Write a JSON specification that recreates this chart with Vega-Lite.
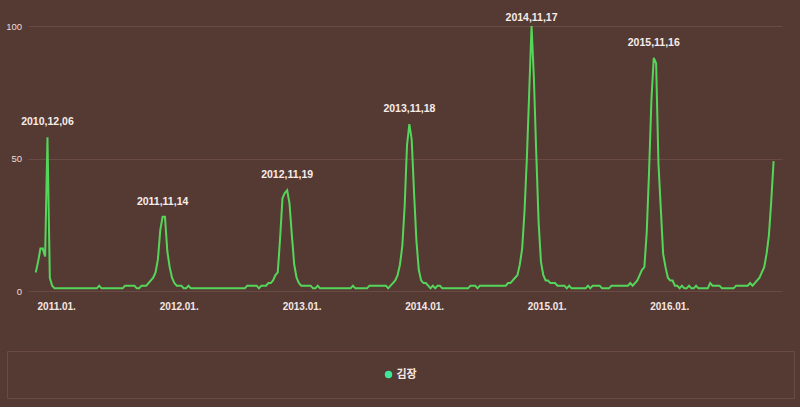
{
  "$schema": "https://vega.github.io/schema/vega-lite/v6.json",
  "background": "#553a34",
  "padding": {"left": 5, "right": 5, "top": 13, "bottom": 8},
  "spacing": 39,
  "config": {"font": "Liberation Sans", "view": {"stroke": null}},
  "vconcat": [
    {
      "width": 775,
      "height": 265,
      "data": {"values": [
        {"d":"2010-11-01","v":7},{"d":"2010-11-08","v":11},{"d":"2010-11-15","v":16},{"d":"2010-11-22","v":16},{"d":"2010-11-29","v":13},
        {"d":"2010-12-06","v":58,"l":"2010,12,06"},{"d":"2010-12-13","v":5},{"d":"2010-12-20","v":2},{"d":"2010-12-27","v":1},
        {"d":"2011-01-03","v":1},{"d":"2011-01-10","v":1},{"d":"2011-01-17","v":1},{"d":"2011-01-24","v":1},{"d":"2011-01-31","v":1},
        {"d":"2011-02-07","v":1},{"d":"2011-02-14","v":1},{"d":"2011-02-21","v":1},{"d":"2011-02-28","v":1},
        {"d":"2011-03-07","v":1},{"d":"2011-03-14","v":1},{"d":"2011-03-21","v":1},{"d":"2011-03-28","v":1},
        {"d":"2011-04-04","v":1},{"d":"2011-04-11","v":1},{"d":"2011-04-18","v":1},{"d":"2011-04-25","v":1},
        {"d":"2011-05-02","v":1},{"d":"2011-05-09","v":2},{"d":"2011-05-16","v":1},{"d":"2011-05-23","v":1},{"d":"2011-05-30","v":1},
        {"d":"2011-06-06","v":1},{"d":"2011-06-13","v":1},{"d":"2011-06-20","v":1},{"d":"2011-06-27","v":1},
        {"d":"2011-07-04","v":1},{"d":"2011-07-11","v":1},{"d":"2011-07-18","v":1},{"d":"2011-07-25","v":2},
        {"d":"2011-08-01","v":2},{"d":"2011-08-08","v":2},{"d":"2011-08-15","v":2},{"d":"2011-08-22","v":2},{"d":"2011-08-29","v":1},
        {"d":"2011-09-05","v":1},{"d":"2011-09-12","v":2},{"d":"2011-09-19","v":2},{"d":"2011-09-26","v":2},
        {"d":"2011-10-03","v":3},{"d":"2011-10-10","v":4},{"d":"2011-10-17","v":5},{"d":"2011-10-24","v":7},{"d":"2011-10-31","v":12},
        {"d":"2011-11-07","v":23},{"d":"2011-11-14","v":28,"l":"2011,11,14"},{"d":"2011-11-21","v":28},{"d":"2011-11-28","v":15},
        {"d":"2011-12-05","v":9},{"d":"2011-12-12","v":5},{"d":"2011-12-19","v":3},{"d":"2011-12-26","v":2},
        {"d":"2012-01-02","v":2},{"d":"2012-01-09","v":2},{"d":"2012-01-16","v":1},{"d":"2012-01-23","v":1},{"d":"2012-01-30","v":2},
        {"d":"2012-02-06","v":1},{"d":"2012-02-13","v":1},{"d":"2012-02-20","v":1},{"d":"2012-02-27","v":1},
        {"d":"2012-03-05","v":1},{"d":"2012-03-12","v":1},{"d":"2012-03-19","v":1},{"d":"2012-03-26","v":1},
        {"d":"2012-04-02","v":1},{"d":"2012-04-09","v":1},{"d":"2012-04-16","v":1},{"d":"2012-04-23","v":1},{"d":"2012-04-30","v":1},
        {"d":"2012-05-07","v":1},{"d":"2012-05-14","v":1},{"d":"2012-05-21","v":1},{"d":"2012-05-28","v":1},
        {"d":"2012-06-04","v":1},{"d":"2012-06-11","v":1},{"d":"2012-06-18","v":1},{"d":"2012-06-25","v":1},
        {"d":"2012-07-02","v":1},{"d":"2012-07-09","v":1},{"d":"2012-07-16","v":1},{"d":"2012-07-23","v":2},{"d":"2012-07-30","v":2},
        {"d":"2012-08-06","v":2},{"d":"2012-08-13","v":2},{"d":"2012-08-20","v":2},{"d":"2012-08-27","v":1},
        {"d":"2012-09-03","v":2},{"d":"2012-09-10","v":2},{"d":"2012-09-17","v":2},{"d":"2012-09-24","v":3},
        {"d":"2012-10-01","v":3},{"d":"2012-10-08","v":4},{"d":"2012-10-15","v":6},{"d":"2012-10-22","v":7},{"d":"2012-10-29","v":20},
        {"d":"2012-11-05","v":35},{"d":"2012-11-12","v":37},{"d":"2012-11-19","v":38,"l":"2012,11,19"},{"d":"2012-11-26","v":33},
        {"d":"2012-12-03","v":21},{"d":"2012-12-10","v":10},{"d":"2012-12-17","v":5},{"d":"2012-12-24","v":3},{"d":"2012-12-31","v":2},
        {"d":"2013-01-07","v":2},{"d":"2013-01-14","v":2},{"d":"2013-01-21","v":2},{"d":"2013-01-28","v":2},
        {"d":"2013-02-04","v":1},{"d":"2013-02-11","v":1},{"d":"2013-02-18","v":2},{"d":"2013-02-25","v":1},
        {"d":"2013-03-04","v":1},{"d":"2013-03-11","v":1},{"d":"2013-03-18","v":1},{"d":"2013-03-25","v":1},
        {"d":"2013-04-01","v":1},{"d":"2013-04-08","v":1},{"d":"2013-04-15","v":1},{"d":"2013-04-22","v":1},{"d":"2013-04-29","v":1},
        {"d":"2013-05-06","v":1},{"d":"2013-05-13","v":1},{"d":"2013-05-20","v":1},{"d":"2013-05-27","v":1},
        {"d":"2013-06-03","v":2},{"d":"2013-06-10","v":1},{"d":"2013-06-17","v":1},{"d":"2013-06-24","v":1},
        {"d":"2013-07-01","v":1},{"d":"2013-07-08","v":1},{"d":"2013-07-15","v":1},{"d":"2013-07-22","v":2},{"d":"2013-07-29","v":2},
        {"d":"2013-08-05","v":2},{"d":"2013-08-12","v":2},{"d":"2013-08-19","v":2},{"d":"2013-08-26","v":2},
        {"d":"2013-09-02","v":2},{"d":"2013-09-09","v":2},{"d":"2013-09-16","v":1},{"d":"2013-09-23","v":2},{"d":"2013-09-30","v":3},
        {"d":"2013-10-07","v":4},{"d":"2013-10-14","v":6},{"d":"2013-10-21","v":10},{"d":"2013-10-28","v":17},
        {"d":"2013-11-04","v":32},{"d":"2013-11-11","v":55},{"d":"2013-11-18","v":63,"l":"2013,11,18"},{"d":"2013-11-25","v":57},
        {"d":"2013-12-02","v":37},{"d":"2013-12-09","v":19},{"d":"2013-12-16","v":8},{"d":"2013-12-23","v":4},{"d":"2013-12-30","v":3},
        {"d":"2014-01-06","v":3},{"d":"2014-01-13","v":2},{"d":"2014-01-20","v":1},{"d":"2014-01-27","v":2},
        {"d":"2014-02-03","v":1},{"d":"2014-02-10","v":2},{"d":"2014-02-17","v":2},{"d":"2014-02-24","v":1},
        {"d":"2014-03-03","v":1},{"d":"2014-03-10","v":1},{"d":"2014-03-17","v":1},{"d":"2014-03-24","v":1},{"d":"2014-03-31","v":1},
        {"d":"2014-04-07","v":1},{"d":"2014-04-14","v":1},{"d":"2014-04-21","v":1},{"d":"2014-04-28","v":1},
        {"d":"2014-05-05","v":1},{"d":"2014-05-12","v":1},{"d":"2014-05-19","v":2},{"d":"2014-05-26","v":2},
        {"d":"2014-06-02","v":2},{"d":"2014-06-09","v":1},{"d":"2014-06-16","v":2},{"d":"2014-06-23","v":2},{"d":"2014-06-30","v":2},
        {"d":"2014-07-07","v":2},{"d":"2014-07-14","v":2},{"d":"2014-07-21","v":2},{"d":"2014-07-28","v":2},
        {"d":"2014-08-04","v":2},{"d":"2014-08-11","v":2},{"d":"2014-08-18","v":2},{"d":"2014-08-25","v":2},
        {"d":"2014-09-01","v":2},{"d":"2014-09-08","v":3},{"d":"2014-09-15","v":3},{"d":"2014-09-22","v":4},{"d":"2014-09-29","v":5},
        {"d":"2014-10-06","v":6},{"d":"2014-10-13","v":10},{"d":"2014-10-20","v":16},{"d":"2014-10-27","v":30},
        {"d":"2014-11-03","v":50},{"d":"2014-11-10","v":75},{"d":"2014-11-17","v":100,"l":"2014,11,17"},{"d":"2014-11-24","v":80},
        {"d":"2014-12-01","v":52},{"d":"2014-12-08","v":26},{"d":"2014-12-15","v":11},{"d":"2014-12-22","v":6},{"d":"2014-12-29","v":4},
        {"d":"2015-01-05","v":4},{"d":"2015-01-12","v":3},{"d":"2015-01-19","v":3},{"d":"2015-01-26","v":3},
        {"d":"2015-02-02","v":2},{"d":"2015-02-09","v":2},{"d":"2015-02-16","v":2},{"d":"2015-02-23","v":2},
        {"d":"2015-03-02","v":1},{"d":"2015-03-09","v":2},{"d":"2015-03-16","v":1},{"d":"2015-03-23","v":1},{"d":"2015-03-30","v":1},
        {"d":"2015-04-06","v":1},{"d":"2015-04-13","v":1},{"d":"2015-04-20","v":1},{"d":"2015-04-27","v":1},
        {"d":"2015-05-04","v":2},{"d":"2015-05-11","v":1},{"d":"2015-05-18","v":2},{"d":"2015-05-25","v":2},
        {"d":"2015-06-01","v":2},{"d":"2015-06-08","v":2},{"d":"2015-06-15","v":1},{"d":"2015-06-22","v":1},{"d":"2015-06-29","v":1},
        {"d":"2015-07-06","v":1},{"d":"2015-07-13","v":2},{"d":"2015-07-20","v":2},{"d":"2015-07-27","v":2},
        {"d":"2015-08-03","v":2},{"d":"2015-08-10","v":2},{"d":"2015-08-17","v":2},{"d":"2015-08-24","v":2},{"d":"2015-08-31","v":2},
        {"d":"2015-09-07","v":3},{"d":"2015-09-14","v":2},{"d":"2015-09-21","v":3},{"d":"2015-09-28","v":4},
        {"d":"2015-10-05","v":6},{"d":"2015-10-12","v":8},{"d":"2015-10-19","v":9},{"d":"2015-10-26","v":22},
        {"d":"2015-11-02","v":45},{"d":"2015-11-09","v":72},{"d":"2015-11-16","v":88,"l":"2015,11,16"},{"d":"2015-11-23","v":86},{"d":"2015-11-30","v":48},
        {"d":"2015-12-07","v":31},{"d":"2015-12-14","v":14},{"d":"2015-12-21","v":9},{"d":"2015-12-28","v":5},
        {"d":"2016-01-04","v":4},{"d":"2016-01-11","v":4},{"d":"2016-01-18","v":2},{"d":"2016-01-25","v":2},
        {"d":"2016-02-01","v":1},{"d":"2016-02-08","v":2},{"d":"2016-02-15","v":1},{"d":"2016-02-22","v":1},{"d":"2016-02-29","v":2},
        {"d":"2016-03-07","v":1},{"d":"2016-03-14","v":1},{"d":"2016-03-21","v":2},{"d":"2016-03-28","v":1},
        {"d":"2016-04-04","v":1},{"d":"2016-04-11","v":1},{"d":"2016-04-18","v":1},{"d":"2016-04-25","v":1},
        {"d":"2016-05-02","v":3},{"d":"2016-05-09","v":2},{"d":"2016-05-16","v":2},{"d":"2016-05-23","v":2},{"d":"2016-05-30","v":2},
        {"d":"2016-06-06","v":1},{"d":"2016-06-13","v":1},{"d":"2016-06-20","v":1},{"d":"2016-06-27","v":1},
        {"d":"2016-07-04","v":1},{"d":"2016-07-11","v":1},{"d":"2016-07-18","v":2},{"d":"2016-07-25","v":2},
        {"d":"2016-08-01","v":2},{"d":"2016-08-08","v":2},{"d":"2016-08-15","v":2},{"d":"2016-08-22","v":2},{"d":"2016-08-29","v":3},
        {"d":"2016-09-05","v":2},{"d":"2016-09-12","v":3},{"d":"2016-09-19","v":4},{"d":"2016-09-26","v":5},
        {"d":"2016-10-03","v":7},{"d":"2016-10-10","v":9},{"d":"2016-10-17","v":14},{"d":"2016-10-24","v":21},{"d":"2016-10-31","v":34},
        {"d":"2016-11-07","v":49}
      ]},
      "encoding": {
        "x": {
          "field": "d", "type": "temporal",
          "scale": {"type": "utc", "range": [21, 775], "domain": [{"year": 2010, "month": 10, "date": 9, "utc": true}, {"year": 2016, "month": 12, "date": 2, "utc": true}]},
          "axis": {"title": null, "format": "%Y.%m.", "tickCount": {"interval": "year", "step": 1}, "grid": false, "domain": false, "ticks": false, "labelFlush": false, "labelColor": "#f4e6e1", "labelFontSize": 10, "labelFontWeight": "bold", "labelPadding": 10}
        },
        "y": {
          "field": "v", "type": "quantitative",
          "scale": {"domain": [0, 100]},
          "axis": {"title": null, "values": [0, 50, 100], "grid": true, "gridColor": "#6a4b44", "gridWidth": 1, "domain": false, "ticks": false, "labelColor": "#ecdad4", "labelFontSize": 9.5, "labelAlign": "right", "labelPadding": -14.5}
        }
      },
      "layer": [
        {"mark": {"type": "line", "color": "#55d65a", "strokeWidth": 2}, "encoding": {}},
        {"transform": [{"filter": "datum.l"}], "mark": {"type": "text", "dy": {"expr": "datum.v > 95 ? -8 : -15"}, "fontSize": 10.5, "fontWeight": "bold", "color": "#f8ece8"}, "encoding": {"text": {"field": "l"}}}
      ]
    },
    {
      "width": 787,
      "height": 47,
      "view": {"stroke": "#6a4b44", "strokeWidth": 1},
      "data": {"values": [{"series": "김장"}]},
      "layer": [
        {"mark": {"type": "circle", "size": 55, "opacity": 1, "xOffset": -12}, "encoding": {"color": {"field": "series", "type": "nominal", "scale": {"range": ["#3ee89a"]}, "legend": null}}},
        {"mark": {"type": "text", "align": "left", "xOffset": -4, "fontSize": 11, "fontWeight": "bold", "font": "Noto Sans CJK KR", "color": "#f4e6e1"}, "encoding": {"text": {"field": "series"}}}
      ]
    }
  ]
}
